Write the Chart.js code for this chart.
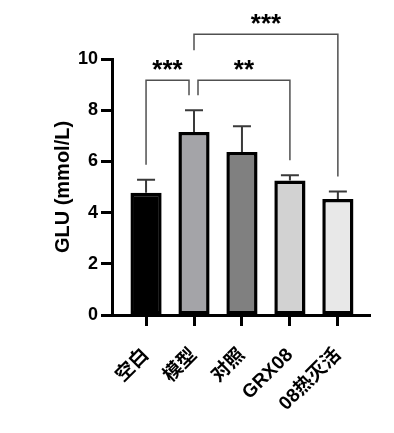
<!DOCTYPE html>
<html><head><meta charset="utf-8">
<script src="https://cdn.jsdelivr.net/npm/chart.js@4"></script>
<style>html,body{margin:0;padding:0;background:#fff}#wrap{width:394px;height:433px}</style>
</head><body><div id="wrap"><canvas id="c" width="394" height="433"></canvas></div>
<script>
const categories = ['空白', '模型', '对照', 'GRX08', '08热灭活'];
const means = [4.78, 7.15, 6.37, 5.25, 4.53];
const sds = [0.50, 0.85, 1.00, 0.21, 0.29];
const barColors = ['#000000', '#a4a4a8', '#808080', '#d2d2d2', '#e8e8e8'];
const yTicks = [0, 2, 4, 6, 8, 10];
const comparisons = [
  { a: 0, b: 1, tier: 0, label: '***' },
  { a: 1, b: 3, tier: 0, label: '**' },
  { a: 1, b: 4, tier: 1, label: '***' }
];

const FONT = "'Liberation Sans', Arial, 'Noto Sans CJK SC', sans-serif";

const annot = {
  id: 'annot',
  afterDatasetsDraw(chart) {
    const { ctx, scales: { x, y } } = chart;
    ctx.save();
    // error bars
    ctx.strokeStyle = '#3a3a3a';
    ctx.lineWidth = 2;
    means.forEach((m, i) => {
      const px = x.getPixelForValue(i);
      const y0 = y.getPixelForValue(m);
      const y1 = y.getPixelForValue(m + sds[i]);
      ctx.beginPath();
      ctx.moveTo(px, y0); ctx.lineTo(px, y1);
      ctx.moveTo(px - 9, y1); ctx.lineTo(px + 9, y1);
      ctx.stroke();
    });
    // significance brackets
    const errTop = i => y.getPixelForValue(means[i] + sds[i]);
    ctx.strokeStyle = '#505050';
    ctx.lineWidth = 1.5;
    comparisons.forEach(c => {
      let minTop = Infinity;
      for (let i = c.a; i <= c.b; i++) minTop = Math.min(minTop, errTop(i));
      const lineY = minTop - 30 - 46 * c.tier;
      const endX = (i) => {
        let px = x.getPixelForValue(i);
        const shared = comparisons.some(o => o !== c && o.tier === c.tier && (o.a === i || o.b === i));
        if (shared) px += (i === c.b) ? -5 : 4;
        return px;
      };
      const legEnd = (i) => {
        const lower = comparisons.some(o => o !== c && o.tier < c.tier && (o.a === i || o.b === i));
        return lower ? lineY + 16 : errTop(i) - 15;
      };
      const xa = endX(c.a), xb = endX(c.b);
      ctx.beginPath();
      ctx.moveTo(xa, legEnd(c.a));
      ctx.lineTo(xa, lineY);
      ctx.lineTo(xb, lineY);
      ctx.lineTo(xb, legEnd(c.b));
      ctx.stroke();
      ctx.fillStyle = '#000';
      ctx.font = 'bold 26px ' + FONT;
      ctx.textAlign = 'center';
      ctx.textBaseline = 'alphabetic';
      ctx.fillText(c.label, (xa + xb) / 2, lineY - 17 + 15);
    });
    ctx.restore();
  }
};

new Chart(document.getElementById('c'), {
  type: 'bar',
  data: {
    datasets: [{
      data: means.map((v, i) => ({ x: i, y: v })),
      backgroundColor: barColors,
      borderColor: '#000',
      borderWidth: 3.5,
      borderSkipped: false,
      barPercentage: 0.65,
      categoryPercentage: 1
    }]
  },
  options: {
    responsive: false,
    animation: false,
    devicePixelRatio: 1,
    layout: { padding: { top: 59, right: 24, bottom: 0, left: 0 } },
    plugins: { legend: { display: false }, tooltip: { enabled: false } },
    scales: {
      x: {
        type: 'linear', min: -0.71, max: 4.67, offset: false,
        afterBuildTicks: s => { s.ticks = categories.map((_, i) => ({ value: i })); },
        afterFit: s => { s.height = 118; },
        ticks: {
          autoSkip: false, minRotation: 45, maxRotation: 45, padding: 18, color: '#000',
          font: { family: FONT, size: 19, weight: 'bold' },
          callback: (v) => categories[v]
        },
        grid: { offset: false, drawOnChartArea: false, drawTicks: true, tickLength: 11, tickWidth: 3, tickColor: '#000' },
        border: { display: true, width: 3, color: '#000' }
      },
      y: {
        min: 0, max: 10,
        afterBuildTicks: s => { s.ticks = yTicks.map(v => ({ value: v })); },
        afterFit: s => { s.width = 112; },
        ticks: { padding: 3, color: '#000', font: { family: FONT, size: 18, weight: 'bold' } },
        grid: { drawOnChartArea: false, drawTicks: true, tickLength: 11, tickWidth: 3, tickColor: '#000' },
        border: { display: true, width: 3, color: '#000' },
        title: {
          display: true, text: 'GLU (mmol/L)', color: '#000',
          font: { family: FONT, size: 20, weight: 'bold' },
          padding: { top: 51, bottom: 0 }
        }
      }
    }
  },
  plugins: [annot]
});
</script>
</body></html>
